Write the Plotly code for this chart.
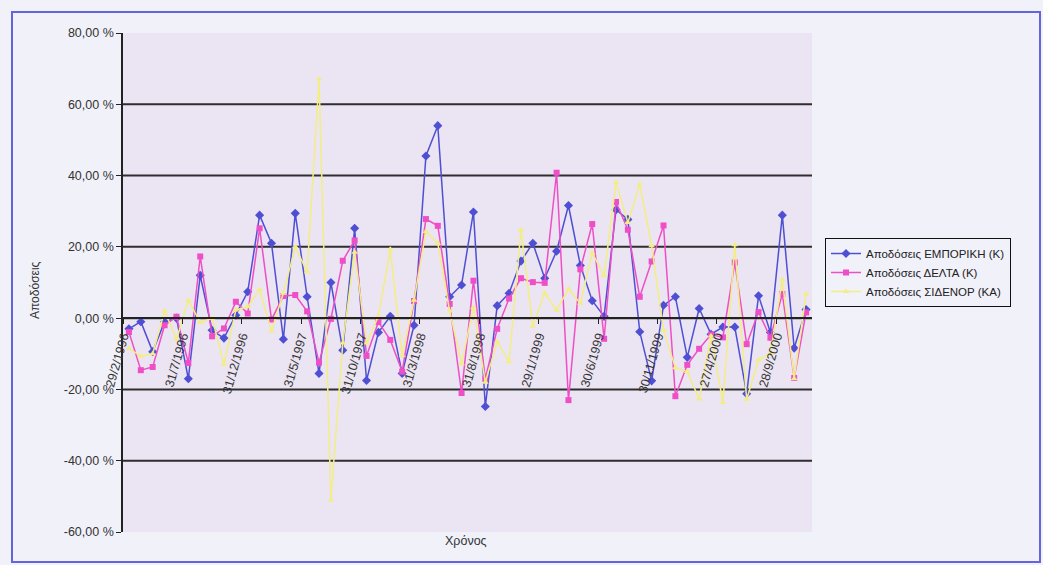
import plotly.graph_objects as go

# Monthly returns (%), Feb 1996 - Nov 2000
emporiki = [-3, -1, -9.4, -1, 0, -17, 12, -3.4, -5.6, 0.8,
            7.4, 28.9, 21, -5.9, 29.4, 6, -15.5, 10, -9, 25.2,
            -17.5, -4, 0.5, -15.5, -2, 45.5, 54, 6, 9.3, 29.8,
            -24.8, 3.5, 7, 16, 21, 11.2, 18.8, 31.6, 14.8, 4.9,
            0.5, 30.4, 27.7, -3.8, -17.6, 3.6, 6, -11, 2.7, -4.5,
            -2.5, -2.5, -21.2, 6.3, -4, 28.9, -8.4, 2.4]

delta = [-3.9, -14.6, -13.7, -2, 0.4, -12.6, 17.3, -5.1, -2.9, 4.6,
         1.3, 25.2, -0.4, 6.2, 6.5, 1.9, -12.5, -0.2, 16.1, 21.8,
         -10.6, -1.1, -6.1, -15, 4.8, 27.8, 25.9, 4, -21, 10.5,
         -17, -3, 5.5, 11.2, 10.1, 9.9, 40.8, -23, 13.7, 26.4,
         -5.8, 32.6, 24.8, 6, 15.9, 26, -21.9, -13.1, -8.6, -4.6,
         -5.4, 15.6, -7.3, 1.7, -5.5, 6.8, -16.8, 1.6]

sidenor = [-8.5, -10.7, -10, 2, -6, 5, -1.2, 0, -13, 2.3,
           3.2, 8, -3.6, 7, 20, 13, 67, -51, -7, 18.5,
           -7, 0.5, 19.3, -10.5, 5, 24.3, 21, 2, -12.8, 3,
           -18, -6.6, -12.2, 24.7, -2.3, 7, 2.2, 8.2, 4.2, 18.3,
           11.9, 38.1, 26.8, 37.5, 20.3, -3.5, -13.9, -15, -22.7, -5,
           -23.7, 20.6, -22.8, -11.7, -10, 10.8, -17, 6.8]

series_names = ["Αποδόσεις ΕΜΠΟΡΙΚΗ (Κ)", "Αποδόσεις ΔΕΛΤΑ (Κ)", "Αποδόσεις ΣΙΔΕΝΟΡ (ΚΑ)"]

tick_index = [0, 5, 10, 15, 20, 25, 30, 35, 40, 45, 50, 55]
tick_labels = ["29/2/1996", "31/7/1996", "31/12/1996", "31/5/1997", "31/10/1997",
               "31/3/1998", "31/8/1998", "29/1/1999", "30/6/1999", "30/11/1999",
               "27/4/2000", "28/9/2000"]

y_ticks = [-60, -40, -20, 0, 20, 40, 60, 80]
y_tick_text = [f"{v},00 %" for v in y_ticks]
grid_values = [-40, -20, 0, 20, 40, 60]

FONT = "Liberation Sans, Arial, sans-serif"
x = list(range(len(emporiki)))

fig = go.Figure()
styles = [
    (emporiki, "#4f4fd4", "diamond", 7),
    (delta, "#ef4fc6", "square", 6),
    (sidenor, "#f2ee84", "triangle-up", 6),
]
for (vals, color, symbol, size), name in zip(styles, series_names):
    fig.add_trace(go.Scatter(
        x=x, y=vals, name=name, mode="lines+markers",
        line=dict(color=color, width=1.5),
        marker=dict(symbol=symbol, size=size, color=color),
    ))

# horizontal gridlines
for v in grid_values:
    fig.add_shape(type="line", xref="paper", x0=0, x1=1, yref="y", y0=v, y1=v,
                  line=dict(color="#2e2e2e", width=2), layer="below")

# outer chart frame
W, H = 1043, 565
L, R, T, B = 123, 812, 33, 532
pw, ph = R - L, B - T


def px(xp):
    return (xp - L) / pw


def py(yp):
    return (B - yp) / ph


fig.add_shape(type="rect", xref="paper", yref="paper",
              x0=px(12), x1=px(1040), y0=py(562), y1=py(12),
              line=dict(color="#6464dc", width=2), layer="above")

fig.add_annotation(text="Αποδόσεις", xref="paper", yref="paper",
                   x=px(35), y=py(290), xanchor="center", textangle=-90,
                   showarrow=False,
                   font=dict(family=FONT, size=12, color="#333"))
fig.add_annotation(text="Χρόνος", xref="paper", yref="paper",
                   x=px(466), y=py(550), showarrow=False,
                   font=dict(family=FONT, size=12.5, color="#333"))

fig.update_layout(
    width=W, height=H,
    margin=dict(l=L, r=W - R, t=T, b=H - B, pad=0),
    paper_bgcolor="#f1f1fa",
    plot_bgcolor="#ebe4f2",
    font=dict(family=FONT, color="#333"),
    showlegend=True,
    legend=dict(x=px(825), y=py(238), xanchor="left", yanchor="top",
                bordercolor="#111", borderwidth=1, bgcolor="#f1f1fa",
                font=dict(family=FONT, size=11.5, color="#222"),
                tracegroupgap=0, itemwidth=30),
    xaxis=dict(
        range=[-0.5, len(x) - 0.5],
        anchor="free", position=(0 - y_ticks[0]) / (y_ticks[-1] - y_ticks[0]),
        tickmode="array",
        tickvals=[i - 0.5 for i in tick_index], ticktext=tick_labels,
        tickangle=-74, tickfont=dict(family=FONT, size=12.5, color="#333"),
        ticks="outside", ticklen=5, tickcolor="#222",
        showline=True, linecolor="#222", linewidth=2,
        showgrid=False, zeroline=False,
    ),
    yaxis=dict(
        range=[y_ticks[0], y_ticks[-1]],
        tickmode="array", tickvals=y_ticks, ticktext=y_tick_text,
        tickfont=dict(family=FONT, size=12.5, color="#333"),
        ticks="outside", ticklen=5, tickcolor="#222",
        showline=True, linecolor="#222", linewidth=1.5,
        showgrid=False, zeroline=False,
    ),
)

fig.write_html("out.html")
